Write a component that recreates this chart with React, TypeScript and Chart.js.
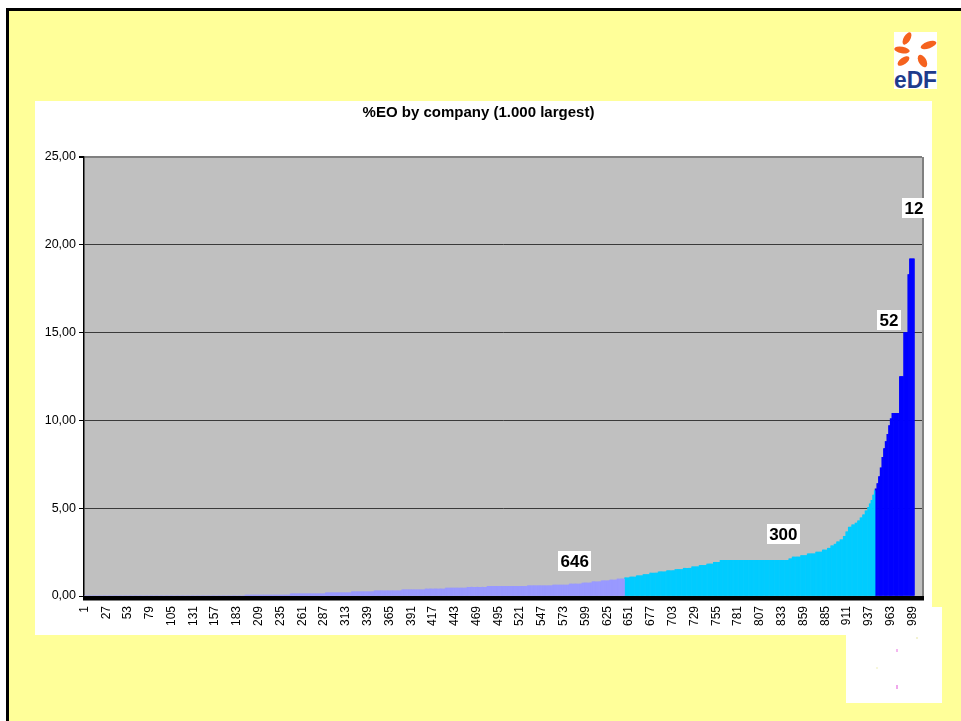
import React, { useEffect, useRef } from "react";
import { Chart, registerables } from "chart.js";

Chart.register(...registerables);

const TITLE = "%EO by company (1.000 largest)";
const FONT = "'Liberation Sans', Arial, Helvetica, sans-serif";

// categories: company rank 1..1000
const CATEGORY_COUNT = 1000;
const categories: string[] = Array.from({ length: CATEGORY_COUNT }, (_, i) => String(i + 1));
const LABEL_STEP = 26; // 1, 27, 53, ... 989

// y axis ticks (%EO)
const Y_MIN = 0;
const Y_MAX = 25;
const Y_STEP = 5;

// Step readings: [first company rank of the step, %EO value]
const lavenderSteps: [number, number][] = [
  [1, 0], [193, 0.05], [247, 0.12], [289, 0.18], [320, 0.24], [347, 0.29],
  [380, 0.35], [408, 0.4], [432, 0.45], [458, 0.5], [482, 0.55], [530, 0.58],
  [560, 0.62], [580, 0.68], [595, 0.74], [607, 0.8], [618, 0.86], [628, 0.91],
  [637, 0.97],
];
const lavenderLast = 645;

const cyanSteps: [number, number][] = [
  [646, 1.03], [652, 1.08], [660, 1.15], [668, 1.22], [676, 1.3], [686, 1.37],
  [696, 1.44], [706, 1.51], [716, 1.58], [726, 1.66], [735, 1.74], [744, 1.82],
  [752, 1.92], [760, 2.03], [842, 2.12], [846, 2.22], [856, 2.3], [864, 2.4],
  [874, 2.5], [882, 2.62], [888, 2.72], [892, 2.85], [896, 2.95], [899, 3.08],
  [903, 3.2], [907, 3.4], [910, 3.65], [913, 3.92], [917, 4.05], [921, 4.15],
  [924, 4.28], [927, 4.45], [930, 4.62], [933, 4.85], [936, 5.05], [938, 5.25],
  [940, 5.45], [942, 5.75], [944, 6.0],
];
const cyanLast = 944;

const blueSteps: [number, number][] = [
  [945, 6.1], [947, 6.4], [949, 6.8], [951, 7.3], [953, 7.9], [955, 8.4],
  [957, 8.8], [959, 9.2], [961, 9.7], [963, 10.1], [965, 10.4], [974, 12.5],
  [979, 15.0], [984, 18.3], [986, 19.2],
];
const blueLast = 991;

// group count labels, placed at (company rank, %EO)
const groupLabels = [
  { text: "646", category: 586, value: 1.97 },
  { text: "300", category: 835, value: 3.54 },
  { text: "52", category: 961, value: 15.7 },
  { text: "12", category: 991, value: 22.1 },
];

function expandSteps(steps: [number, number][], last: number): (number | null)[] {
  const out: (number | null)[] = new Array(CATEGORY_COUNT).fill(null);
  for (let s = 0; s < steps.length; s++) {
    const [start, v] = steps[s];
    const end = s + 1 < steps.length ? steps[s + 1][0] - 1 : last;
    for (let c = start; c <= end; c++) out[c - 1] = v;
  }
  return out;
}

const plotPlugin = {
  id: "plotDecor",
  beforeDraw(chart: any) {
    const { ctx, chartArea } = chart;
    ctx.save();
    ctx.fillStyle = "#C0C0C0";
    ctx.fillRect(chartArea.left, chartArea.top, chartArea.right - chartArea.left, chartArea.bottom - chartArea.top);
    ctx.restore();
  },
  afterDatasetsDraw(chart: any) {
    const { ctx, chartArea } = chart;
    const xs = chart.scales.x;
    const ys = chart.scales.y;
    ctx.save();
    // right border of plot
    ctx.strokeStyle = "#808080";
    ctx.lineWidth = 2;
    ctx.beginPath();
    ctx.moveTo(chartArea.right + 1, chartArea.top);
    ctx.lineTo(chartArea.right + 1, chartArea.bottom);
    ctx.stroke();
    // thick x axis
    ctx.fillStyle = "#000000";
    ctx.fillRect(chartArea.left - 1, chartArea.bottom, chartArea.right - chartArea.left + 3, 4.5);
    // group labels
    ctx.font = `bold 17px ${FONT}`;
    ctx.textAlign = "center";
    ctx.textBaseline = "middle";
    for (const g of groupLabels) {
      const x = xs.getPixelForValue(g.category - 1);
      const y = ys.getPixelForValue(g.value);
      const w = ctx.measureText(g.text).width + 5;
      const h = 20;
      ctx.fillStyle = "#FFFFFF";
      ctx.fillRect(Math.round(x - w / 2), Math.round(y - h / 2), Math.round(w), h);
      ctx.fillStyle = "#000000";
      ctx.fillText(g.text, x, y + 1);
    }
    ctx.restore();
  },
};

function EdfLogo() {
  const orange = "#F5621E";
  return (
    <svg width={43} height={57} viewBox="0 0 43 57" style={{ position: "absolute", left: 894, top: 32, background: "#FFFFFF" }}>
      <ellipse cx={13} cy={6.5} rx={3.3} ry={6.8} fill={orange} transform="rotate(30 13 6.5)" />
      <ellipse cx={34.5} cy={13} rx={8.2} ry={3.4} fill={orange} transform="rotate(-20 34.5 13)" />
      <ellipse cx={8} cy={18} rx={7.8} ry={3.2} fill={orange} transform="rotate(10 8 18)" />
      <ellipse cx={9.5} cy={29} rx={6.8} ry={3.4} fill={orange} transform="rotate(-35 9.5 29)" />
      <ellipse cx={28.5} cy={29} rx={3.8} ry={6.8} fill={orange} transform="rotate(-30 28.5 29)" />
      <text x={0} y={56} fontFamily={FONT} fontWeight="bold" fontSize={24} fill="#1E3C8C" textLength={43} lengthAdjust="spacingAndGlyphs">eDF</text>
    </svg>
  );
}

export default function App() {
  const canvasRef = useRef<HTMLCanvasElement | null>(null);

  useEffect(() => {
    if (!canvasRef.current) return;
    const chart = new Chart(canvasRef.current, {
      type: "bar",
      data: {
        labels: categories,
        datasets: [
          { label: "646", data: expandSteps(lavenderSteps, lavenderLast), backgroundColor: "#9999FF", borderWidth: 0, barPercentage: 1, categoryPercentage: 1 },
          { label: "300", data: expandSteps(cyanSteps, cyanLast), backgroundColor: "#00CCFF", borderWidth: 0, barPercentage: 1, categoryPercentage: 1 },
          { label: "52", data: expandSteps(blueSteps, blueLast), backgroundColor: "#0000FF", borderWidth: 0, barPercentage: 1, categoryPercentage: 1 },
        ],
      },
      options: {
        responsive: false,
        animation: false,
        events: [],
        layout: { padding: { left: 0, right: 10, top: 0, bottom: 0 } },
        plugins: {
          legend: { display: false },
          tooltip: { enabled: false },
          title: {
            display: true,
            text: TITLE,
            color: "#000000",
            font: { family: FONT, size: 15, weight: "bold" },
            padding: { top: 3, bottom: 35 },
          },
        },
        scales: {
          x: {
            stacked: true,
            grid: { display: false, drawTicks: false },
            border: { display: false },
            ticks: {
              autoSkip: false,
              maxRotation: 90,
              minRotation: 90,
              padding: 10,
              color: "#000000",
              font: { family: FONT, size: 12 },
              callback: (_v: any, i: number) => (i % LABEL_STEP === 0 ? categories[i] : null),
            },
            afterFit: (s: any) => {
              s.height = 39;
              s.paddingLeft = 0;
              s.paddingRight = 0;
            },
          },
          y: {
            stacked: true,
            min: Y_MIN,
            max: Y_MAX,
            ticks: {
              stepSize: Y_STEP,
              padding: 3,
              color: "#000000",
              font: { family: FONT, size: 12.5 },
              callback: (v: any) => Number(v).toFixed(2).replace(".", ","),
            },
            grid: {
              color: (c: any) => (c.tick && c.tick.value === Y_MAX ? "#808080" : "#3a3a3a"),
              lineWidth: (c: any) => (c.tick && c.tick.value === Y_MAX ? 2 : 1),
              tickColor: "#000000",
              tickLength: 5,
            },
            border: { color: "#000000", width: 1.5 },
            afterFit: (s: any) => { s.width = 49; },
          },
        },
      } as any,
      plugins: [plotPlugin],
    });
    return () => chart.destroy();
  }, []);

  return (
    <div style={{ position: "fixed", left: 0, top: 0, width: 961, height: 721, background: "#FFFFFF", overflow: "hidden" }}>
      <div style={{ position: "absolute", left: 6, top: 8, width: 970, height: 730, background: "#FFFF99", borderLeft: "3px solid #000", borderTop: "3px solid #000" }} />
      <EdfLogo />
      <div style={{ position: "absolute", left: 846, top: 607, width: 96, height: 96, background: "#FFFFFF" }}>
        <div style={{ position: "absolute", left: 50, top: 42, width: 2, height: 3, background: "#F4B8F0" }} />
        <div style={{ position: "absolute", left: 50, top: 78, width: 2, height: 4, background: "#F0A8EC" }} />
        <div style={{ position: "absolute", left: 70, top: 30, width: 2, height: 2, background: "#F2F2D0" }} />
        <div style={{ position: "absolute", left: 30, top: 60, width: 2, height: 2, background: "#F6F6DA" }} />
      </div>
      <div style={{ position: "absolute", left: 35, top: 101, width: 897, height: 534, background: "#FFFFFF" }}>
        <canvas ref={canvasRef} width={897} height={534} style={{ display: "block", width: 897, height: 534 }} />
      </div>
    </div>
  );
}
